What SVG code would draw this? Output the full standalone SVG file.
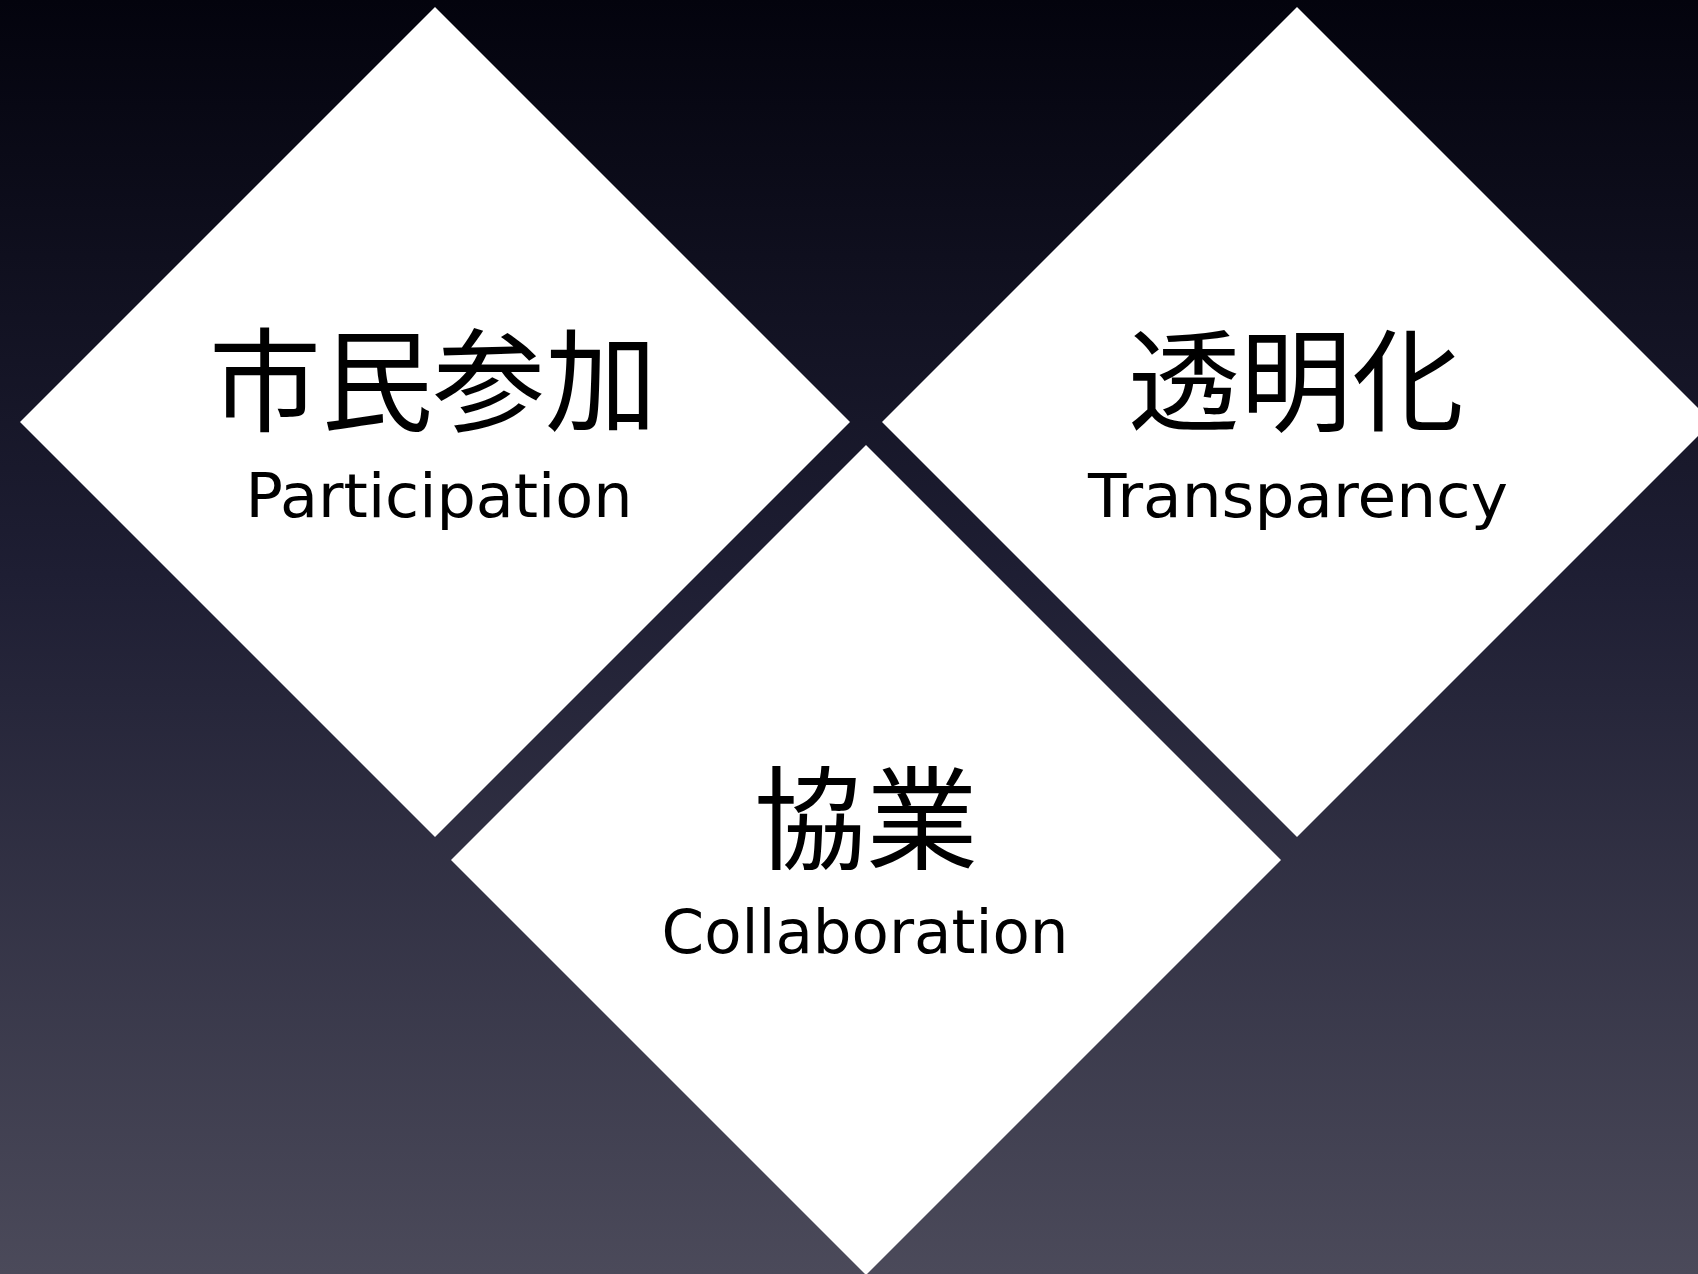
<svg xmlns="http://www.w3.org/2000/svg" width="1698" height="1274" viewBox="0 0 1698 1274">
<defs>
<linearGradient id="bg" x1="0" y1="0" x2="0" y2="1">
<stop offset="0" stop-color="#03030d"/>
<stop offset="0.45" stop-color="#1e1e33"/>
<stop offset="1" stop-color="#4b4a5a"/>
</linearGradient>
</defs>
<style>
.d{fill:#ffffff}
.jp{font-family:"Noto Sans CJK JP","Noto Sans CJK SC",sans-serif;font-size:112px;fill:#000;text-anchor:middle}
.en{font-family:"DejaVu Sans","Liberation Sans",sans-serif;font-size:61px;fill:#000;text-anchor:middle}
</style>
<rect width="1698" height="1274" fill="url(#bg)"/>
<g id="participation">
<polygon class="d" points="435,7 850,422 435,837 20,422"/>
<text class="jp" x="433" y="423">市民参加</text>
<text class="en" x="439" y="517" textLength="387" lengthAdjust="spacingAndGlyphs">Participation</text>
</g>
<g id="transparency">
<polygon class="d" points="1297,7 1712,422 1297,837 882,422"/>
<text class="jp" x="1296" y="423">透明化</text>
<text class="en" x="1298" y="517" textLength="420" lengthAdjust="spacingAndGlyphs">Transparency</text>
</g>
<g id="collaboration">
<polygon class="d" points="866,445 1281,860 866,1275 451,860"/>
<text class="jp" x="866" y="861">協業</text>
<text class="en" x="865" y="953" textLength="407" lengthAdjust="spacingAndGlyphs">Collaboration</text>
</g>
<g id="connectors"/>
</svg>
